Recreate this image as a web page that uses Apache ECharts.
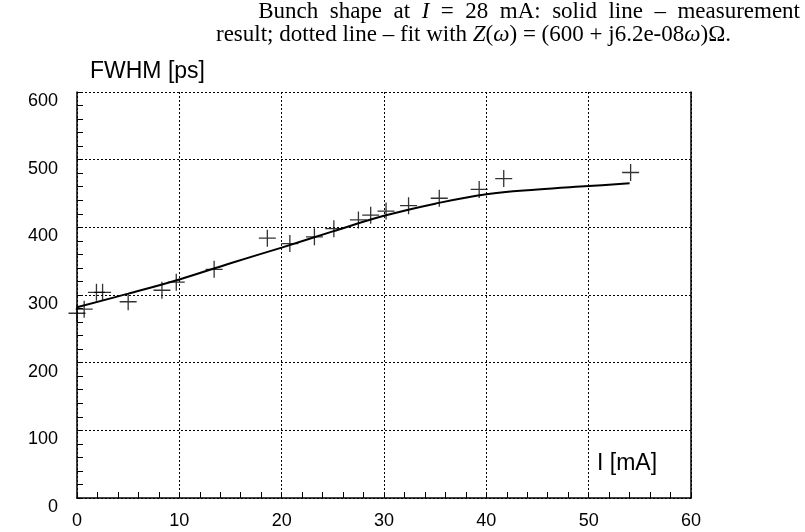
<!DOCTYPE html>
<html>
<head>
<meta charset="utf-8">
<script src="https://cdn.jsdelivr.net/npm/echarts@6/dist/echarts.min.js"></script>
<style>html,body{margin:0;padding:0;background:#fff;}#c{width:805px;height:532px;}</style>
</head>
<body>
<div id="c"></div>
<script>
// Measured points (current I [mA], FWHM [ps])
const measI = [0, 0.7, 1.9, 2.5, 5.0, 8.3, 9.7, 13.4, 18.6, 20.8, 23.2, 25.1, 27.5, 28.7, 30.2, 32.4, 35.4, 39.3, 41.7, 54.1];
const measFWHM = [273, 279, 304, 304, 290, 307, 319, 338, 384, 376, 386, 398, 411, 418, 424, 432, 443, 456, 472, 481];
// Fit curve
const fitI = [0, 5, 10, 15, 20, 25, 30, 35, 40, 45, 50, 54];
const fitFWHM = [282, 302, 323, 347, 370, 394, 417, 435, 449, 456, 461, 465];
const xTicks = [0, 10, 20, 30, 40, 50, 60];
const yTicks = [0, 100, 200, 300, 400, 500, 600];

const chart = echarts.init(document.getElementById('c'));
const sans = 'Liberation Sans, Arial, sans-serif';
const serif = 'Liberation Serif, Times New Roman, serif';
const capFs = 23;
const capRich = {
  n: {fontFamily: serif, fontSize: capFs, fill: '#000'},
  i: {fontFamily: serif, fontSize: capFs, fontStyle: 'italic', fill: '#000'}
};
chart.setOption({
  animation: false,
  backgroundColor: '#fff',
  grid: {left: 77, right: 114, top: 92, bottom: 34},
  graphic: [
    {type: 'text', right: 5, top: 0, style: {
      text: '{n|Bunch  shape  at  }{i|I}{n|  =  28  mA:  solid  line  –  measurement}',
      rich: capRich
    }},
    {type: 'text', left: 216, top: 23, style: {
      text: '{n|result; dotted line – fit with }{i|Z}{n|(}{i|ω}{n|) = (600 + j6.2e-08}{i|ω}{n|)Ω.}',
      rich: capRich
    }},
    {type: 'text', left: 90, top: 60, style: {text: 'FWHM [ps]', font: '23px ' + sans, fill: '#000'}},
    {type: 'text', left: 597, top: 452, style: {text: 'I [mA]', font: '23px ' + sans, fill: '#000'}}
  ],
  xAxis: {
    type: 'value', min: 0, max: 60, interval: 10,
    axisLine: {show: true, lineStyle: {color: '#000', width: 1.5}},
    axisTick: {show: true, inside: true, length: 6, lineStyle: {color: '#000'}},
    minorTick: {show: true, splitNumber: 5, length: 6, lineStyle: {color: '#000'}},
    axisLabel: {color: '#000', fontFamily: sans, fontSize: 18, margin: 14,
      formatter: v => xTicks.includes(v) ? String(v) : ''},
    splitLine: {show: true, lineStyle: {color: '#000', type: [2, 2], width: 1}}
  },
  yAxis: [{
    type: 'value', min: 0, max: 600, interval: 100,
    axisLine: {show: true, lineStyle: {color: '#000', width: 1.5}},
    axisTick: {show: true, inside: true, length: 6, lineStyle: {color: '#000'}},
    minorTick: {show: true, splitNumber: 5, length: 6, lineStyle: {color: '#000'}},
    axisLabel: {color: '#000', fontFamily: sans, fontSize: 18, margin: 19,
      verticalAlign: 'top',
      formatter: v => yTicks.includes(v) ? String(v) : ''},
    splitLine: {show: true, lineStyle: {color: '#000', type: [2, 2], width: 1}}
  }, {
    type: 'value', min: 0, max: 600, interval: 100, position: 'right',
    axisLine: {show: true, lineStyle: {color: '#000', width: 1.5}},
    axisTick: {show: false}, axisLabel: {show: false}, splitLine: {show: false}
  }],
  series: [
    {
      type: 'line', data: fitI.map((x, i) => [x, fitFWHM[i]]),
      smooth: 0.4, showSymbol: false, symbol: 'none',
      lineStyle: {color: '#000', width: 2}
    },
    {
      type: 'scatter', data: measI.map((x, i) => [x, measFWHM[i]]),
      symbol: 'path://M10 0 L10 20 M0 10 L20 10', symbolSize: [17, 17],
      itemStyle: {color: 'rgba(0,0,0,0)', borderColor: '#000', borderWidth: 1.3},
      clip: false
    }
  ]
});
</script>
</body>
</html>
